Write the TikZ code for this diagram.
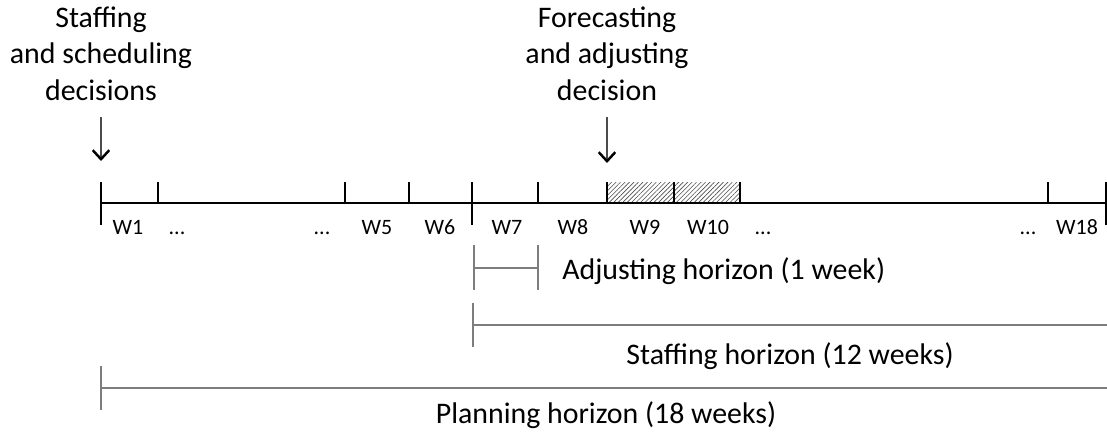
\documentclass[tikz,border=0pt]{standalone}
\usepackage{fontspec}
\setmainfont{Carlito}
\usetikzlibrary{positioning,arrows.meta,patterns.meta}
\definecolor{axisc}{RGB}{0,0,0}
\definecolor{spanc}{RGB}{125,125,125}
\newcommand\wdots{...}
\tikzset{
  heading/.style  = {align=center, inner sep=0pt, font=\fontsize{17}{20.9}\selectfont},
  wlabel/.style   = {anchor=base, inner sep=0pt, font=\fontsize{12.5}{14}\selectfont},
  hlabel/.style   = {inner sep=0pt, font=\fontsize{17}{20}\selectfont},
  axis/.style     = {draw=axisc, line width=1.7pt},
  span/.style     = {draw=spanc, line width=0.8pt},
  decision/.style = {draw=black!70, line width=0.7pt,
                     -{Straight Barb[length=1.8mm,width=3.3mm,line width=1.4pt,color=black]}},
  hatched/.style  = {pattern={Lines[angle=45,distance=1.8pt,line width=0.35pt]}, pattern color=black!70},
}

\begin{document}
\begin{tikzpicture}[x=0.02cm,y=-0.02cm]
\useasboundingbox (0,0) rectangle (1107,436);

% weeks
\fill[hatched] (607,182) rectangle (740,203);
\draw[axis] (101,203) -- (1106,203);
\foreach \x in {101,472,1106} \draw[axis] (\x,182) -- (\x,225);
\foreach \x in {158,345,409,538,607,674,740,1048} \draw[axis] (\x,182) -- (\x,203);

\foreach \x/\t [count=\i] in {128/W1,177/\wdots,322/\wdots,377/W5,440/W6,507/W7,573/W8,
                             645/W9,708/W10,763/\wdots,1028/\wdots,1077/W18}
  \node[wlabel] (wk\i) at (\x,234) {\t};

% decisions
\node[heading, anchor=north] (stf) at (101,6) {Staffing\\and scheduling\\decisions};
\node[heading, anchor=north] (fct) at (607,6) {Forecasting\\and adjusting\\decision};
\coordinate (stfhit) at (101,161);
\coordinate (fcthit) at (607,163);
\draw[decision, shorten <=0.32cm] (stf.south) -- (stfhit);
\draw[decision, shorten <=0.32cm] (fct.south) -- (fcthit);

% horizons
\draw[span] (474,245) -- (474,290) (538,245) -- (538,290) (474,268) -- (538,268);
\draw[span] (473,303) -- (473,347) (473,325) -- (1107,325);
\draw[span] (101,366) -- (101,410) (101,388) -- (1107,388);

\node[hlabel, anchor=base west] (adjh) at (562,279) {Adjusting horizon (1 week)};
\node[hlabel, anchor=base] (stfh) at (790,364) {Staffing horizon (12 weeks)};
\node[hlabel, anchor=base] (plnh) at (606,423) {Planning horizon (18 weeks)};

\end{tikzpicture}
\end{document}
